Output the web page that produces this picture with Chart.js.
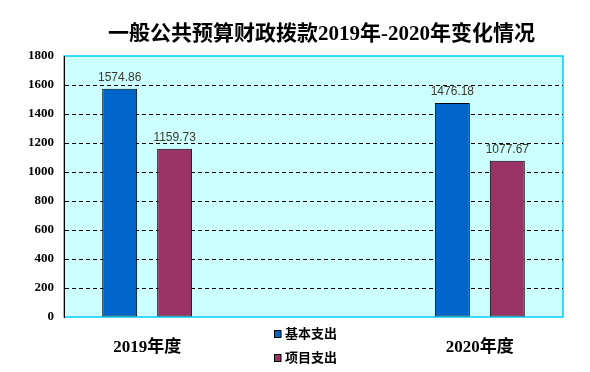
<!DOCTYPE html>
<html>
<head>
<meta charset="utf-8">
<script src="https://cdn.jsdelivr.net/npm/chart.js@4/dist/chart.umd.min.js"></script>
<style>
  html, body { margin: 0; padding: 0; background: #ffffff; }
  #wrap { width: 590px; height: 372px; position: relative; }
</style>
</head>
<body>
<div id="wrap"><canvas id="c" width="590" height="372"></canvas></div>
<script>
const titleText = '一般公共预算财政拨款2019年-2020年变化情况';
const categories = ['2019年度', '', '2020年度'];
const seriesNames = ['基本支出', '项目支出'];
const basicValues = [1574.86, null, 1476.18];
const projectValues = [1159.73, null, 1077.67];
const yMin = 0, yMax = 1800, yStep = 200;

const colors = ['#0066CC', '#993366'];
const serifBold = '"Liberation Serif", "Noto Sans CJK SC", serif';

const bgPlugin = {
  id: 'bg',
  beforeDraw(chart) {
    const { ctx, chartArea: a } = chart;
    ctx.save();
    ctx.fillStyle = '#CCFFFF';
    ctx.fillRect(a.left, a.top, a.right - a.left, a.bottom - a.top);
    ctx.strokeStyle = '#00CCFF';
    ctx.lineWidth = 1.5;
    ctx.strokeRect(a.left, a.top, a.right - a.left, a.bottom - a.top);
    ctx.restore();
  },
  afterDraw(chart) {
    const { ctx, chartArea: a } = chart;
    ctx.save();
    // title
    ctx.fillStyle = '#000';
    ctx.font = 'bold 21px ' + serifBold;
    ctx.textAlign = 'center';
    ctx.textBaseline = 'middle';
    ctx.fillText(titleText, (a.left + a.right) / 2 + 8, 35);
    // legend
    ctx.font = 'bold 13px ' + serifBold;
    ctx.textAlign = 'left';
    const lx = a.left + 210;
    chart.data.datasets.forEach((ds, i) => {
      const cy = a.bottom + 17 + i * 24;
      ctx.fillStyle = ds.backgroundColor;
      ctx.fillRect(lx, cy - 3.5, 7, 7);
      ctx.strokeStyle = '#000';
      ctx.lineWidth = 1;
      ctx.strokeRect(lx + 0.5, cy - 3.5, 6.5, 7);
      ctx.fillStyle = '#000';
      ctx.fillText(ds.label, lx + 11, cy + 1);
    });
    ctx.restore();
  },
  afterDatasetsDraw(chart) {
    const { ctx } = chart;
    ctx.save();
    ctx.font = '12px "Liberation Sans", "DejaVu Sans", sans-serif';
    ctx.fillStyle = '#3a3a2a';
    ctx.textAlign = 'center';
    ctx.textBaseline = 'middle';
    chart.data.datasets.forEach((ds, i) => {
      const meta = chart.getDatasetMeta(i);
      meta.data.forEach((el, j) => {
        const v = ds.data[j];
        if (v === null || v === undefined) return;
        ctx.fillText(v.toFixed(2), el.x, el.y - 11);
      });
    });
    ctx.restore();
  }
};

new Chart(document.getElementById('c'), {
  type: 'bar',
  data: {
    labels: categories,
    datasets: [
      { label: seriesNames[0], data: basicValues, backgroundColor: colors[0], borderColor: '#000', borderWidth: 1, borderSkipped: false },
      { label: seriesNames[1], data: projectValues, backgroundColor: colors[1], borderColor: '#000', borderWidth: 1, borderSkipped: false }
    ]
  },
  options: {
    responsive: false,
    animation: false,
    devicePixelRatio: 1,
    layout: { padding: { top: 56, right: 27, bottom: 0, left: 0 } },
    datasets: { bar: { categoryPercentage: 0.661, barPercentage: 0.636 } },
    plugins: {
      legend: { display: false },
      title: { display: false },
      tooltip: { enabled: false }
    },
    scales: {
      x: {
        afterFit(s) { s.height = 55; },
        grid: { display: false, drawTicks: false },
        border: { display: false },
        ticks: { padding: 20, color: '#000', font: { family: serifBold, size: 17, weight: 'bold' }, maxRotation: 0 }
      },
      y: {
        min: yMin, max: yMax,
        afterFit(s) { s.width = 64; },
        ticks: { stepSize: yStep, padding: 10, color: '#000', font: { family: serifBold, size: 13, weight: 'bold' },
                 callback: (v) => String(v) },
        grid: {
          drawTicks: false,
          color: (c) => (c.tick && (c.tick.value === yMin || c.tick.value === yMax)) ? 'rgba(0,0,0,0)' : '#000',
          lineWidth: 1
        },
        border: { display: true, color: '#000', width: 1, dash: [4, 3] }
      }
    }
  },
  plugins: [bgPlugin]
});
</script>
</body>
</html>
